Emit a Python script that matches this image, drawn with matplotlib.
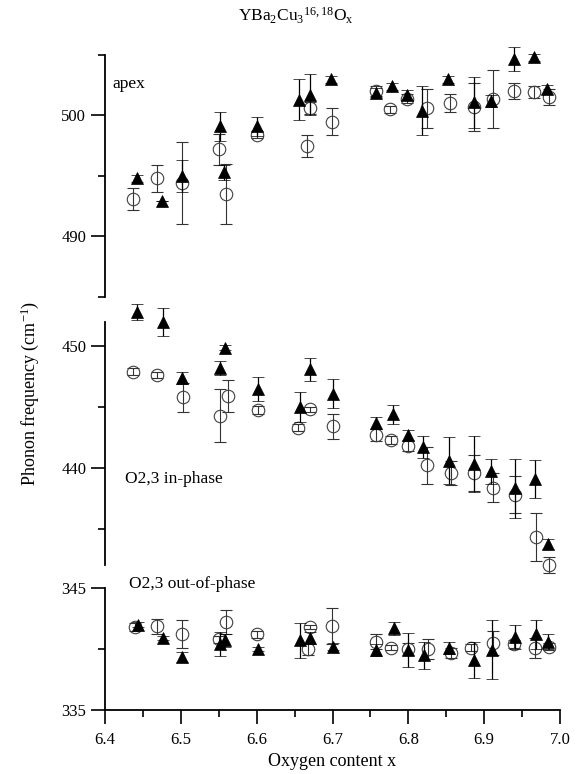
import matplotlib
matplotlib.use("Agg")
import matplotlib.pyplot as plt
from matplotlib.ticker import MultipleLocator, FixedLocator

plt.rcParams['font.family'] = ['Liberation Serif', 'DejaVu Serif']
plt.rcParams['mathtext.fontset'] = 'custom'
plt.rcParams['mathtext.rm'] = 'Liberation Serif'
plt.rcParams['mathtext.it'] = 'Liberation Serif:italic'

# ---- apex panel ----
apex_tri_x = [6.442, 6.475, 6.501, 6.551, 6.557, 6.600, 6.656, 6.670, 6.698, 6.758,
              6.779, 6.798, 6.818, 6.852, 6.886, 6.909, 6.939, 6.966, 6.983]
apex_tri_y = [494.8, 492.9, 495.0, 499.1, 495.3, 499.1, 501.3, 501.7, 503.0, 501.9,
              502.4, 501.7, 500.4, 503.0, 501.1, 501.2, 504.7, 504.8, 502.15]
apex_tri_e = [0.3, 0.0, 1.3, 1.2, 0.65, 0.8, 1.7, 1.7, 0.3, 0.4,
              0.3, 0.4, 2.0, 0.3, 2.1, 0.5, 1.0, 0.3, 0.4]
apex_cir_x = [6.437, 6.468, 6.501, 6.550, 6.560, 6.600, 6.667, 6.670, 6.699, 6.758,
              6.776, 6.798, 6.825, 6.855, 6.886, 6.911, 6.939, 6.966, 6.985]
apex_cir_y = [493.1, 494.8, 494.4, 497.2, 493.5, 498.4, 497.5, 500.6, 499.5, 502.0,
              500.5, 501.4, 500.6, 501.0, 500.7, 501.4, 502.0, 501.96, 501.5]
apex_cir_e = [0.9, 1.1, 3.4, 1.3, 2.5, 0.3, 0.9, 0.5, 1.15, 0.4,
              0.3, 0.4, 1.6, 0.75, 2.0, 2.4, 0.65, 0.5, 0.65]

# ---- O2,3 in-phase panel ----
inph_tri_x = [6.442, 6.476, 6.501, 6.552, 6.558, 6.602, 6.657, 6.670, 6.700, 6.758,
              6.780, 6.799, 6.819, 6.853, 6.887, 6.909, 6.941, 6.967, 6.984]
inph_tri_y = [452.8, 452.0, 447.4, 448.2, 449.9, 446.5, 445.0, 448.1, 446.1, 443.7,
              444.4, 442.7, 441.7, 440.6, 440.3, 439.7, 438.3, 439.1, 433.7]
inph_tri_e = [0.65, 1.15, 0.5, 0.6, 0.2, 1.0, 1.2, 0.95, 1.2, 0.5,
              0.8, 0.4, 0.9, 1.9, 2.3, 1.0, 2.4, 1.55, 0.4]
inph_cir_x = [6.437, 6.469, 6.503, 6.551, 6.562, 6.602, 6.655, 6.670, 6.700, 6.758,
              6.777, 6.799, 6.825, 6.856, 6.886, 6.912, 6.941, 6.968, 6.986]
inph_cir_y = [447.9, 447.65, 445.8, 444.3, 445.9, 444.75, 443.3, 444.8, 443.4, 442.7,
              442.3, 441.8, 440.2, 439.6, 439.55, 438.35, 437.8, 434.3, 432.0]
inph_cir_e = [0.3, 0.25, 1.2, 2.2, 1.3, 0.3, 0.3, 0.2, 1.0, 0.5,
              0.3, 0.4, 1.5, 1.0, 1.5, 1.2, 1.5, 2.0, 0.65]

# ---- O2,3 out-of-phase panel ----
outph_tri_x = [6.443, 6.477, 6.502, 6.551, 6.558, 6.602, 6.657, 6.670, 6.700, 6.758,
               6.781, 6.799, 6.820, 6.853, 6.887, 6.910, 6.941, 6.968, 6.984]
outph_tri_y = [342.0, 340.9, 339.35, 340.4, 340.7, 340.0, 340.7, 340.9, 340.2, 339.95,
               341.7, 339.95, 339.5, 340.1, 339.1, 339.95, 341.0, 341.2, 340.6]
outph_tri_e = [0.2, 0.2, 0.4, 1.0, 0.5, 0.2, 1.45, 0.5, 0.3, 0.5,
               0.55, 1.4, 1.1, 0.5, 1.45, 2.4, 1.0, 1.2, 0.6]
outph_cir_x = [6.440, 6.468, 6.501, 6.550, 6.559, 6.601, 6.668, 6.670, 6.699, 6.758,
               6.777, 6.800, 6.826, 6.856, 6.883, 6.911, 6.939, 6.967, 6.986]
outph_cir_y = [341.8, 341.85, 341.2, 340.8, 342.2, 341.2, 340.0, 341.8, 341.9, 340.6,
               340.1, 340.0, 340.0, 339.7, 340.1, 340.5, 340.4, 340.1, 340.2]
outph_cir_e = [0.3, 0.6, 1.15, 0.3, 1.0, 0.3, 0.5, 0.2, 1.5, 0.6,
               0.2, 0.5, 0.8, 0.4, 0.3, 1.0, 0.3, 0.8, 0.3]

x_ticks = [6.4, 6.5, 6.6, 6.7, 6.8, 6.9, 7.0]
apex_major = [490, 500]
inph_major = [440, 450]
outph_major = [335, 345]

W, H = 582, 774
fig = plt.figure(figsize=(W / 100, H / 100), dpi=100)

def px_axes(top, bottom, left=105, right=560):
    return fig.add_axes([left / W, 1 - bottom / H, (right - left) / W, (bottom - top) / H])

ax1 = px_axes(55, 297)
ax2 = px_axes(322, 565)
ax3 = px_axes(588, 710)

panels = [
    (ax1, (485, 505), apex_major, apex_tri_x, apex_tri_y, apex_tri_e, apex_cir_x, apex_cir_y, apex_cir_e),
    (ax2, (432, 452), inph_major, inph_tri_x, inph_tri_y, inph_tri_e, inph_cir_x, inph_cir_y, inph_cir_e),
    (ax3, (335, 345), outph_major, outph_tri_x, outph_tri_y, outph_tri_e, outph_cir_x, outph_cir_y, outph_cir_e),
]

def unclip(container):
    for child in container.get_children():
        child.set_clip_on(False)

for ax, ylim, major, tx, ty, te, cx, cy, ce in panels:
    c1 = ax.errorbar(cx, cy, yerr=ce, fmt='o', ms=9, mfc='none', mec='0.25', mew=0.8,
                     ecolor='0.2', elinewidth=0.8, capsize=4.5, capthick=0.8, zorder=2)
    c2 = ax.errorbar(tx, ty, yerr=te, fmt='^', ms=8.5, mfc='black', mec='black', mew=0.5,
                     ecolor='black', elinewidth=0.9, capsize=4.5, capthick=0.9, zorder=3)
    unclip(c1)
    unclip(c2)
    ax.set_xlim(6.4, 7.0)
    ax.set_ylim(*ylim)
    ax.yaxis.set_major_locator(FixedLocator(major))
    ax.yaxis.set_minor_locator(MultipleLocator(5))
    ax.spines['top'].set_visible(False)
    ax.spines['right'].set_visible(False)
    ax.spines['left'].set_linewidth(1.3)
    ax.tick_params(axis='y', which='major', direction='out', length=10, width=1.2, labelsize=12)
    ax.tick_params(axis='y', which='minor', direction='out', length=5, width=1.2)
    ax.patch.set_visible(False)
    if ax is not ax3:
        ax.spines['bottom'].set_visible(False)
        ax.tick_params(axis='x', which='both', bottom=False, labelbottom=False)

ax3.spines['bottom'].set_linewidth(1.3)
ax3.set_xticks(x_ticks)
ax3.set_xticklabels([f"{v:.1f}" for v in x_ticks])
ax3.xaxis.set_minor_locator(MultipleLocator(0.05))
ax3.tick_params(axis='x', which='major', direction='out', length=10, width=1.2, labelsize=12, pad=6)
ax3.tick_params(axis='x', which='minor', direction='out', length=5, width=1.2)

ax1.text(6.41, 502.6, 'apex', fontsize=12.5, va='center', ha='left')
ax2.text(6.427, 439.1, 'O2,3 in-phase', fontsize=12.5, va='center', ha='left')
ax3.text(6.432, 345.3, 'O2,3 out-of-phase', fontsize=12.5, va='center', ha='left', clip_on=False)

fig.text(296 / W, 1 - 16 / H, r'YBa$_\mathregular{2}$Cu$_\mathregular{3}$$^\mathregular{16,18}$O$_\mathregular{x}$',
         ha='center', va='center', fontsize=12.5)
fig.text(332 / W, 1 - 762 / H, 'Oxygen content x', ha='center', va='center', fontsize=13)
fig.text(30 / W, 1 - 393 / H, r'Phonon frequency (cm$^\mathregular{-1}$)', ha='center', va='center',
         rotation=90, fontsize=13)

fig.savefig('out.png', dpi=100)
